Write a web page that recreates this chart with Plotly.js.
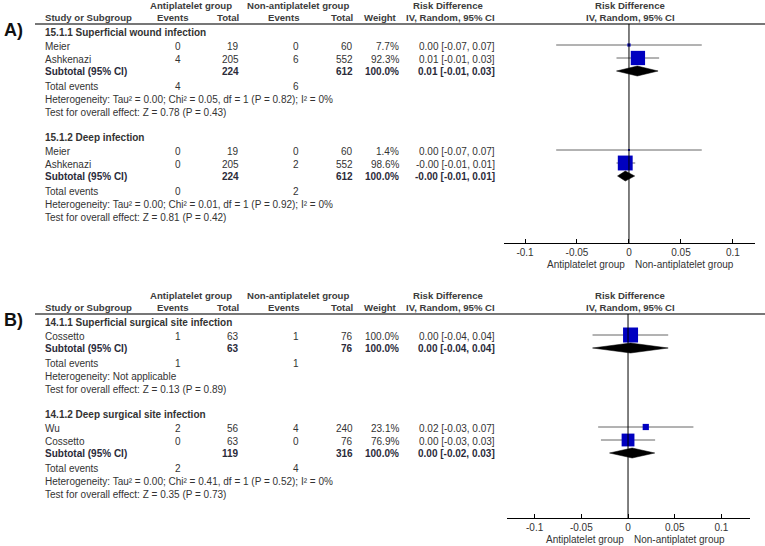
<!DOCTYPE html>
<html>
<head>
<meta charset="utf-8">
<script src="https://cdn.plot.ly/plotly-3.0.1.min.js"></script>
<style>
  html, body { margin: 0; padding: 0; background: #fff; }
  #chart { width: 765px; height: 546px; }
</style>
</head>
<body>
<div id="chart"></div>
<script>
// ---- Forest plot data: risk difference, IV random effects ----
const panelLabels = ['A)', 'B)'];
const groupNames = [
  '15.1.1 Superficial wound infection',
  '15.1.2 Deep infection',
  '14.1.1 Superficial surgical site infection',
  '14.1.2 Deep surgical site infection'
];
const groupPanel = [0, 0, 1, 1];

const studyNames = ['Meier', 'Ashkenazi', 'Meier', 'Ashkenazi', 'Cossetto', 'Wu', 'Cossetto'];
const studyGroup = [0, 0, 1, 1, 2, 3, 3];
const expEvents = [0, 4, 0, 0, 1, 2, 0];
const expTotal = [19, 205, 19, 205, 63, 56, 63];
const ctlEvents = [0, 6, 0, 2, 1, 4, 0];
const ctlTotal = [60, 552, 60, 552, 76, 240, 76];
const studyWeight = [7.7, 92.3, 1.4, 98.6, 100.0, 23.1, 76.9];
const studyRD = [0.0, 0.0086, 0.0, -0.0036, 0.0027, 0.019, 0.0];
const studyLo = [-0.07, -0.012, -0.07, -0.012, -0.038, -0.032, -0.029];
const studyHi = [0.07, 0.029, 0.07, 0.006, 0.043, 0.07, 0.029];

const subExpTotal = [224, 224, 63, 119];
const subCtlTotal = [612, 612, 76, 316];
const subExpEvents = [4, 0, 1, 2];
const subCtlEvents = [6, 2, 1, 4];
const subRD = [0.008, -0.0035, 0.0027, 0.0044];
const subLo = [-0.012, -0.011, -0.038, -0.0198];
const subHi = [0.028, 0.0055, 0.043, 0.0286];
const heterogeneity = [
  'Heterogeneity: Tau² = 0.00; Chi² = 0.05, df = 1 (P = 0.82); I² = 0%',
  'Heterogeneity: Tau² = 0.00; Chi² = 0.01, df = 1 (P = 0.92); I² = 0%',
  'Heterogeneity: Not applicable',
  'Heterogeneity: Tau² = 0.00; Chi² = 0.41, df = 1 (P = 0.52); I² = 0%'
];
const overallEffect = [
  'Test for overall effect: Z = 0.78 (P = 0.43)',
  'Test for overall effect: Z = 0.81 (P = 0.42)',
  'Test for overall effect: Z = 0.13 (P = 0.89)',
  'Test for overall effect: Z = 0.35 (P = 0.73)'
];

const tickVals = [-0.1, -0.05, 0, 0.05, 0.1];
const favourLeft = ['Antiplatelet group', 'Antiplatelet group'];
const favourRight = ['Non-antiplatelet group', 'Non-antiplatet group'];

// ---- Page geometry (pixels) ----
const W = 765, H = 546;
const FONT = 'Liberation Sans, Arial, sans-serif';
const TXT = '#333333';
const panelTop = [0, 290];
const axisY = [243, 518];
const col = {
  name: 44, expEv: 178, expTot: 240, ctlEv: 296, ctlTot: 354, weight: 400, ci: 496
};

const fmt = v => v.toFixed(2);
const ciText = (m, lo, hi) => `${fmt(m)} [${fmt(lo)}, ${fmt(hi)}]`;

const annotations = [];
function txt(text, px, py, anchor, extra) {
  annotations.push(Object.assign({
    text: text, xref: 'paper', yref: 'y', x: px / W, y: py,
    xanchor: anchor || 'left', yanchor: 'middle', showarrow: false,
    borderpad: 0,
    font: { family: FONT, size: 10, color: TXT }
  }, extra || {}));
}

const shapes = [];

// Row positions for each subgroup block
const groupRows = [];
{
  let cursor = [panelTop[0] + 32, panelTop[1] + 32];
  groupNames.forEach((g, gi) => {
    const p = groupPanel[gi];
    let y = cursor[p];
    const rows = { heading: y, studies: [] };
    const idx = studyNames.map((_, i) => i).filter(i => studyGroup[i] === gi);
    idx.forEach((si, k) => { y += (k === 0 ? 14 : 13); rows.studies.push({ si, y }); });
    y += 12; rows.subtotal = y;
    y += 15; rows.events = y;
    y += 13; rows.het = y;
    y += 13; rows.test = y;
    cursor[p] = y + 25;
    groupRows.push(rows);
  });
}

// Column headers and panel letters
[0, 1].forEach(p => {
  const t = panelTop[p];
  txt('<b>' + panelLabels[p] + '</b>', 3, t + 30, 'left', { font: { family: FONT, size: 18, color: '#111' } });
  const hf = { font: { family: FONT, size: 9.6, color: '#3c3c3c' } };
  txt('<b>Antiplatelet group</b>', 191, t + 5, 'center', hf);
  txt('<b>Non-antiplatelet group</b>', 298, t + 5, 'center', hf);
  txt('<b>Risk Difference</b>', 448, t + 5, 'center', hf);
  txt('<b>Risk Difference</b>', 630, t + 5, 'center', hf);
  txt('<b>Study or Subgroup</b>', col.name, t + 17, 'left', hf);
  txt('<b>Events</b>', 172, t + 17, 'center', hf);
  txt('<b>Total</b>', col.expTot, t + 17, 'right', hf);
  txt('<b>Events</b>', 283, t + 17, 'center', hf);
  txt('<b>Total</b>', col.ctlTot, t + 17, 'right', hf);
  txt('<b>Weight</b>', col.weight - 2, t + 17, 'right', hf);
  txt('<b>IV, Random, 95% CI</b>', col.ci, t + 17, 'right', hf);
  txt('<b>IV, Random, 95% CI</b>', 630, t + 17, 'center', hf);
  shapes.push({
    type: 'line', xref: 'paper', yref: 'y', x0: 35 / W, x1: 1, y0: t + 24, y1: t + 24,
    line: { color: '#777', width: 2 }
  });
  // line of no effect
  shapes.push({
    type: 'line', xref: p === 0 ? 'x' : 'x2', yref: 'y', x0: 0, x1: 0, y0: t + 24, y1: axisY[p],
    line: { color: '#000', width: 1 }
  });
  // favours labels under the axis
  txt(favourLeft[p], (p === 0 ? 626 : 625), axisY[p] + 21, 'right');
  txt(favourRight[p], (p === 0 ? 634 : 633), axisY[p] + 21, 'left');
});

// Table body and forest marks
const traces = [];
groupRows.forEach((rows, gi) => {
  const p = groupPanel[gi];
  const xa = p === 0 ? 'x' : 'x2';
  txt('<b>' + groupNames[gi] + '</b>', col.name, rows.heading, 'left');

  const lx = [], ly = [], mx = [], my = [], ms = [];
  rows.studies.forEach(({ si, y }) => {
    txt(studyNames[si], col.name, y, 'left');
    txt(String(expEvents[si]), col.expEv, y, 'center');
    txt(String(expTotal[si]), col.expTot, y, 'right');
    txt(String(ctlEvents[si]), col.ctlEv, y, 'center');
    txt(String(ctlTotal[si]), col.ctlTot, y, 'right');
    txt(studyWeight[si].toFixed(1) + '%', col.weight, y, 'right');
    txt(ciText(studyRD[si], studyLo[si], studyHi[si]), col.ci, y, 'right');
    lx.push(studyLo[si], studyHi[si], null);
    ly.push(y - 1, y - 1, null);
    mx.push(studyRD[si]); my.push(y - 1);
    ms.push(Math.max(2, 15 * Math.pow(studyWeight[si] / 100, 0.6)));
  });
  traces.push({
    type: 'scatter', mode: 'lines', xaxis: xa, yaxis: 'y', x: lx, y: ly,
    line: { color: '#666', width: 1 }, hoverinfo: 'skip', showlegend: false
  });
  traces.push({
    type: 'scatter', mode: 'markers', xaxis: xa, yaxis: 'y', x: mx, y: my,
    marker: { symbol: 'square', color: '#0000c0', opacity: 1, size: ms, line: { width: 0 } },
    hoverinfo: 'skip', showlegend: false
  });

  const sb = { font: { family: FONT, size: 10, color: '#2b2b3a' } };
  txt('<b>Subtotal (95% CI)</b>', col.name, rows.subtotal, 'left', sb);
  txt('<b>' + subExpTotal[gi] + '</b>', col.expTot, rows.subtotal, 'right', sb);
  txt('<b>' + subCtlTotal[gi] + '</b>', col.ctlTot, rows.subtotal, 'right', sb);
  txt('<b>100.0%</b>', col.weight, rows.subtotal, 'right', sb);
  txt('<b>' + ciText(subRD[gi], subLo[gi], subHi[gi]) + '</b>', col.ci, rows.subtotal, 'right', sb);
  const ys = rows.subtotal;
  traces.push({
    type: 'scatter', mode: 'lines', xaxis: xa, yaxis: 'y',
    x: [subLo[gi], subRD[gi], subHi[gi], subRD[gi], subLo[gi]],
    y: [ys, ys - 5, ys, ys + 5, ys],
    fill: 'toself', fillcolor: '#000', line: { color: '#000', width: 0.5 },
    hoverinfo: 'skip', showlegend: false
  });

  txt('Total events', col.name, rows.events, 'left');
  txt(String(subExpEvents[gi]), col.expEv, rows.events, 'center');
  txt(String(subCtlEvents[gi]), col.ctlEv, rows.events, 'center');
  txt(heterogeneity[gi], col.name, rows.het, 'left');
  txt(overallEffect[gi], col.name, rows.test, 'left');
});

const axisCommon = {
  showline: true, linecolor: '#000', linewidth: 1,
  ticks: 'inside', ticklen: 4, tickcolor: '#000', tickwidth: 1,
  tickvals: tickVals, ticktext: tickVals.map(v => String(v)),
  tickfont: { family: FONT, size: 10, color: TXT },
  showgrid: false, zeroline: false, fixedrange: true, anchor: 'free'
};

const layout = {
  width: W, height: H,
  margin: { l: 0, r: 0, t: 0, b: 0 },
  paper_bgcolor: '#fff', plot_bgcolor: 'rgba(0,0,0,0)',
  showlegend: false,
  xaxis: Object.assign({}, axisCommon, {
    domain: [504 / W, 755 / W], range: [-0.1202, 0.1212], position: (H - axisY[0]) / H
  }),
  xaxis2: Object.assign({}, axisCommon, {
    domain: [507 / W, 750 / W], range: [-0.1296, 0.1306], position: (H - axisY[1]) / H
  }),
  yaxis: { domain: [0, 1], range: [H, 0], visible: false, fixedrange: true },
  shapes: shapes,
  annotations: annotations
};

Plotly.newPlot('chart', traces, layout, { displayModeBar: false, staticPlot: true });
</script>
</body>
</html>
